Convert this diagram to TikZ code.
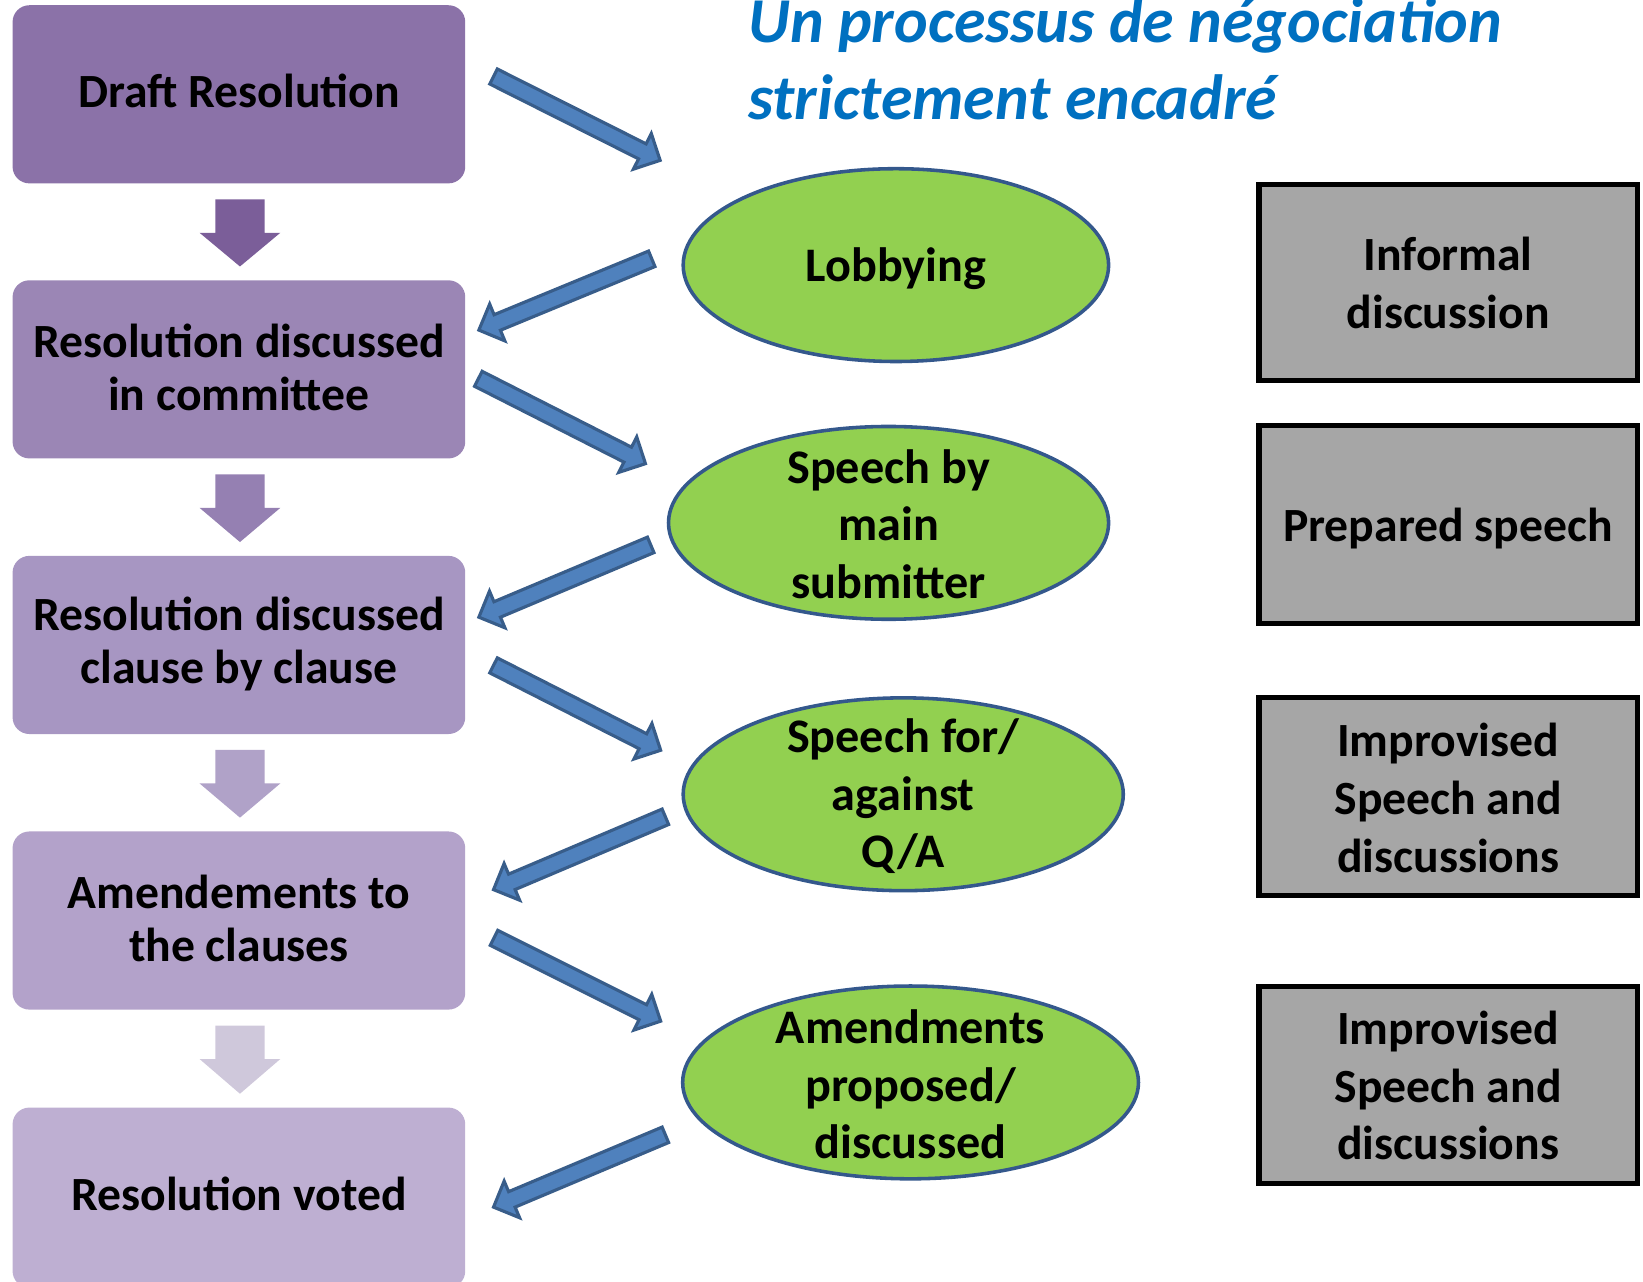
\documentclass[tikz,border=0pt]{standalone}
\usepackage{fontspec}
\setmainfont{Carlito}
\usetikzlibrary{calc,shapes.geometric}
\definecolor{pA}{RGB}{139,114,168}
\definecolor{pB}{RGB}{155,134,181}
\definecolor{pC}{RGB}{167,150,194}
\definecolor{pD}{RGB}{179,162,202}
\definecolor{pE}{RGB}{190,175,210}
\definecolor{aA}{RGB}{123,94,153}
\definecolor{aB}{RGB}{149,128,178}
\definecolor{aC}{RGB}{176,162,200}
\definecolor{aD}{RGB}{207,200,219}
\definecolor{arrfill}{RGB}{79,129,189}
\definecolor{arrline}{RGB}{56,93,138}
\definecolor{ellfill}{RGB}{146,208,80}
\definecolor{ellline}{RGB}{52,88,140}
\definecolor{graybox}{RGB}{166,166,166}
\definecolor{titleblue}{RGB}{0,112,192}
\newcommand\blockarr[2]{%
  \coordinate (hb) at ($(#2)!19pt!(#1)$);
  \draw[bluearr] ($(#1)!8pt!90:(#2)$) -- ($(hb)!8pt!90:(#2)$) -- ($(hb)!19pt!90:(#2)$) -- (#2)
    -- ($(hb)!19pt!-90:(#2)$) -- ($(hb)!8pt!-90:(#2)$) -- ($(#1)!8pt!-90:(#2)$) -- cycle;}
\newcommand\downarr[3]{%
  \fill[#3] ($(#1.south)+(-22.5,15)$) -- ($(#1.south)+(24.5,15)$) -- ($(#1.south)+(24.5,47)$)
    -- ($(#1.south)+(39.5,47)$) -- ($(#2.north)+(1,-13)$) -- ($(#1.south)+(-37.5,47)$)
    -- ($(#1.south)+(-22.5,47)$) -- cycle;}
\begin{document}
\begin{tikzpicture}[x=1pt,y=-1pt,
  lbox/.style={rounded corners=16pt, minimum width=432pt, minimum height=170pt, inner sep=0pt},
  ltext/.style={align=center, font=\bfseries\fontsize{45.5}{50}\selectfont},
  ell/.style={ellipse, draw=ellline, line width=3.4pt, fill=ellfill, inner sep=0pt, minimum height=184pt},
  etext/.style={align=center, font=\bfseries\fontsize{46}{55}\selectfont},
  gbox/.style={draw=black, line width=4.8pt, fill=graybox, minimum width=361pt, inner sep=0pt},
  gtext/.style={align=center, font=\bfseries\fontsize{45.5}{55}\selectfont},
  ttext/.style={anchor=base west, text=titleblue, font=\bfseries\itshape\fontsize{61}{73}\selectfont, inner sep=0pt},
  bluearr/.style={fill=arrfill, draw=arrline, line width=3pt, line join=miter}]
\useasboundingbox (0,0) rectangle (1568,1223);
% title
\node[ttext] (title1) at (714,41) {Un processus de négociation};
\node[ttext] (title2) at (714,114) {strictement encadré};
% left column
\node[lbox, fill=pA] (b1) at (228,90) {};
\node[ltext] (l1) at ($(b1.center)+(0,-3)$) {Draft Resolution};
\node[lbox, fill=pB] (b2) at (228,352.5) {};
\node[ltext] (l2) at ($(b2.center)+(0,-2)$) {Resolution discussed\\in committee};
\node[lbox, fill=pC] (b3) at (228,615.5) {};
\node[ltext] (l3) at ($(b3.center)+(0,-1)$) {Resolution discussed\\clause by clause};
\node[lbox, fill=pD] (b4) at (228,878.5) {};
\node[ltext] (l4) at ($(b4.center)+(0,-2)$) {Amendements to\\the clauses};
\node[lbox, fill=pE, minimum height=172pt] (b5) at (228,1143) {};
\node[ltext] (l5) at ($(b5.center)+(0,-4)$) {Resolution voted};
% down arrows
\downarr{b1}{b2}{aA}
\downarr{b2}{b3}{aB}
\downarr{b3}{b4}{aC}
\downarr{b4}{b5}{aD}
% ellipses
\node[ell, minimum width=406pt] (e1) at (855,253) {};
\node[etext] (t1) at ($(e1.center)+(0,3)$) {Lobbying};
\node[ell, minimum width=420pt] (e2) at (848,499) {};
\node[etext] (t2) at ($(e2.center)+(0,1)$) {Speech by\\main\\submitter};
\node[ell, minimum width=420pt] (e3) at (862,758) {};
\node[etext] (t3) at ($(e3.center)+(0,2)$) {Speech for/\\against\\Q/A};
\node[ell, minimum width=435pt] (e4) at (869,1033) {};
\node[etext] (t4) at ($(e4.center)+(0,2)$) {Amendments\\proposed/\\discussed};
% gray boxes
\node[gbox, minimum height=187pt] (g1) at (1382,270) {};
\node[gtext] (u1) at (g1.center) {Informal\\discussion};
\node[gbox, minimum height=189pt] (g2) at (1382,500.5) {};
\node[gtext] (u2) at ($(g2.center)+(0,4)$) {Prepared speech};
\node[gbox, minimum height=189pt] (g3) at (1382,760.5) {};
\node[gtext] (u3) at ($(g3.center)+(0,1)$) {Improvised\\Speech and\\discussions};
\node[gbox, minimum height=188pt] (g4) at (1382,1035) {};
\node[gtext] (u4) at ($(g4.center)+(0,1)$) {Improvised\\Speech and\\discussions};
% blue arrows
\coordinate (s1) at (471,73);   \coordinate (d1) at (630,153);
\coordinate (s2) at (622,247);  \coordinate (d2) at (457,315);
\coordinate (s3) at (456.5,361.5); \coordinate (d3) at (616,442.5);
\coordinate (s4) at (621,520);  \coordinate (d4) at (457,589);
\coordinate (s5) at (471,635);  \coordinate (d5) at (630.5,716);
\coordinate (s6) at (635,779.5); \coordinate (d6) at (471,849);
\coordinate (s7) at (471.5,895); \coordinate (d7) at (630.5,974.5);
\coordinate (s8) at (635,1083); \coordinate (d8) at (471,1152);
\blockarr{s1}{d1}
\blockarr{s2}{d2}
\blockarr{s3}{d3}
\blockarr{s4}{d4}
\blockarr{s5}{d5}
\blockarr{s6}{d6}
\blockarr{s7}{d7}
\blockarr{s8}{d8}
\end{tikzpicture}
\end{document}
